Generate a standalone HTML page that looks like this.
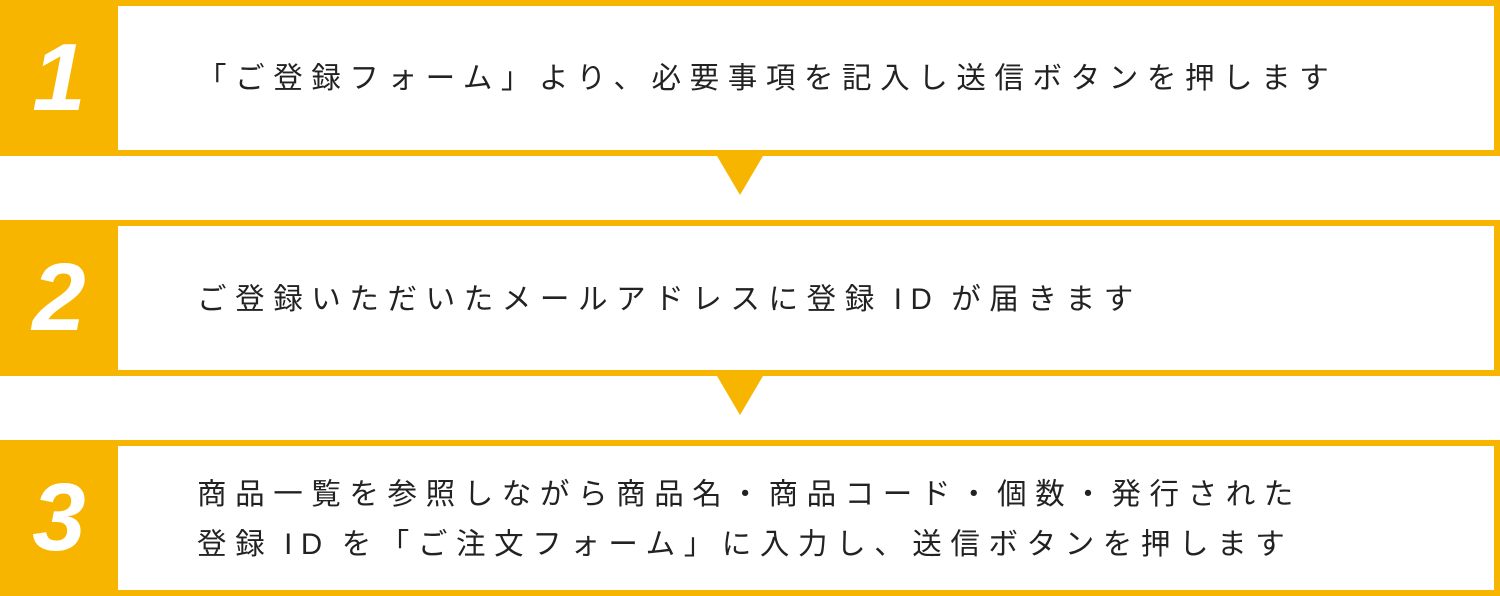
<!DOCTYPE html>
<html><head><meta charset="utf-8"><style>
body{margin:0;width:1500px;height:596px;background:#fff;position:relative;overflow:hidden;font-family:"Liberation Sans","Noto Sans CJK JP",sans-serif}
.box{position:absolute;left:0;width:1500px;height:156px;box-sizing:border-box;border:6px solid #F8B500;background:#fff}
.num{position:absolute;left:-6px;top:-6px;width:118px;height:156px;background:#F8B500;color:#fff;font-weight:bold;font-style:italic;font-size:96px;line-height:156px;text-align:center}
.t{position:absolute;left:191px;color:#222;font-size:29.5px;letter-spacing:8.6px;line-height:50px;white-space:nowrap}
.s{letter-spacing:0;font-size:14px;margin-right:7px}
.tri{position:absolute;left:717px;width:0;height:0;border-left:23px solid transparent;border-right:23px solid transparent;border-top:39px solid #F8B500}
</style></head><body>
<div class="box" style="top:0"><div class="num">1</div><div class="t" style="top:48px">「ご登録フォーム」より、必要事項を記入し送信ボタンを押します</div></div>
<div class="tri" style="top:156px"></div>
<div class="box" style="top:220px"><div class="num">2</div><div class="t" style="top:49px">ご登録いただいたメールアドレスに登録<span class="s"> </span>ID<span class="s"> </span>が届きます</div></div>
<div class="tri" style="top:376px"></div>
<div class="box" style="top:440px"><div class="num">3</div><div class="t" style="top:24px">商品一覧を参照しながら商品名・商品コード・個数・発行された<br>登録<span class="s"> </span>ID<span class="s"> </span>を「ご注文フォーム」に入力し、送信ボタンを押します</div></div>
</body></html>
